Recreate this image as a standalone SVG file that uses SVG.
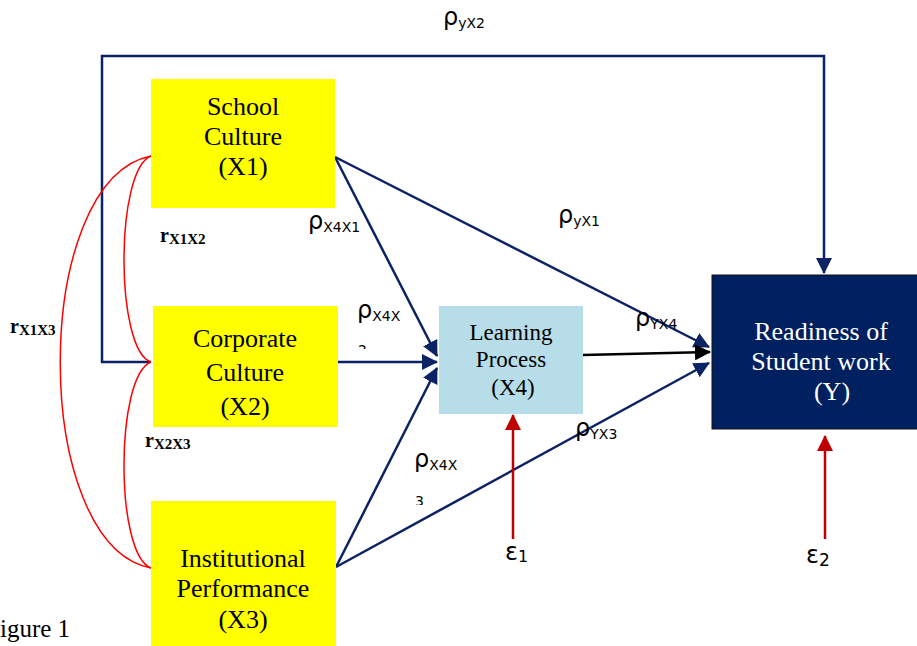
<svg xmlns="http://www.w3.org/2000/svg" width="917" height="646" viewBox="0 0 917 646">
<style>
.yb{fill:#FFFF00}
.nt{font-family:"Liberation Serif","Times New Roman",serif;font-size:26px;fill:#000;text-anchor:middle}
.lt{font-family:"Liberation Serif","Times New Roman",serif;font-size:23px;fill:#000;text-anchor:middle}
.wt{font-family:"Liberation Serif","Times New Roman",serif;font-size:26px;fill:#fff;text-anchor:middle}
.rho{font-family:"DejaVu Sans","Liberation Sans",sans-serif;font-size:24px;fill:#000}
.sub{font-size:14px}
.rl{font-family:"Liberation Serif","Times New Roman",serif;font-weight:bold;font-size:20px;fill:#000}
.rs{font-size:15px}
.nv{stroke:#0B2265;stroke-width:2.5;fill:none}
.rd{stroke:#FF0000;stroke-width:1.5;fill:none}
.ra{stroke:#C00000;stroke-width:2.5;fill:none}
</style>
<defs>
<marker id="anb" markerWidth="16" markerHeight="16" refX="15" refY="8" orient="auto" markerUnits="userSpaceOnUse" viewBox="0 0 16 16"><path d="M0,0 L16,8 L0,16 z" fill="#0B2265"/></marker>
<marker id="ak" markerWidth="16" markerHeight="16" refX="15" refY="8" orient="auto" markerUnits="userSpaceOnUse" viewBox="0 0 16 16"><path d="M0,0 L16,8 L0,16 z" fill="#000"/></marker>
<marker id="ar" markerWidth="16" markerHeight="16" refX="15" refY="8" orient="auto" markerUnits="userSpaceOnUse" viewBox="0 0 16 16"><path d="M0,0 L16,8 L0,16 z" fill="#C00000"/></marker>
<clipPath id="c2"><rect x="350" y="330" width="30" height="19"/></clipPath>
<clipPath id="c3"><rect x="405" y="480" width="30" height="25"/></clipPath>
</defs>

<g id="connectors">
<path class="nv" d="M151,362 H102 V56 H824 V273" marker-end="url(#anb)"/>
<line class="nv" x1="335" y1="157" x2="709" y2="347" marker-end="url(#anb)"/>
<line class="nv" x1="335" y1="157" x2="437" y2="356" marker-end="url(#anb)"/>
<line class="nv" x1="338" y1="362" x2="437" y2="362" marker-end="url(#anb)"/>
<line class="nv" x1="336" y1="567" x2="437" y2="368" marker-end="url(#anb)"/>
<line class="nv" x1="336" y1="567" x2="709" y2="363" marker-end="url(#anb)"/>
<line x1="583" y1="355" x2="710" y2="352" stroke="#000" stroke-width="2.5" marker-end="url(#ak)"/>
<line class="ra" x1="513" y1="539" x2="513" y2="415" marker-end="url(#ar)"/>
<line class="ra" x1="825" y1="539" x2="825" y2="436" marker-end="url(#ar)"/>
<path class="rd" d="M151,156 C115,170 115,350 151,362"/>
<path class="rd" d="M151,362 C115,376 115,555 151,568"/>
<path class="rd" d="M151,156 C30,180 30,545 151,568"/>
</g>

<g id="x1">
<rect class="yb" x="151" y="79" width="184" height="129"/>
<text class="nt" x="243" y="115">School</text>
<text class="nt" x="243" y="145">Culture</text>
<text class="nt" x="243" y="175">(X1)</text>
</g>
<g id="x2">
<rect class="yb" x="153" y="306" width="185" height="121"/>
<text class="nt" x="245" y="347">Corporate</text>
<text class="nt" x="245" y="381">Culture</text>
<text class="nt" x="245" y="415">(X2)</text>
</g>
<g id="x3">
<rect class="yb" x="151" y="501" width="185" height="145"/>
<text class="nt" x="243" y="567">Institutional</text>
<text class="nt" x="243" y="597">Performance</text>
<text class="nt" x="243" y="628">(X3)</text>
</g>
<g id="x4">
<rect x="439" y="306" width="144" height="108" fill="#B7DDE8"/>
<text class="lt" x="511" y="340">Learning</text>
<text class="lt" x="511" y="367">Process</text>
<text class="lt" x="513" y="395">(X4)</text>
</g>
<g id="y">
<rect x="712" y="275" width="210" height="154" fill="#002060" stroke="#111" stroke-width="1"/>
<text class="wt" x="821" y="340">Readiness of</text>
<text class="wt" x="821" y="370">Student work</text>
<text class="wt" x="832" y="400">(Y)</text>
</g>

<g id="labels">
<text class="rho" x="443" y="25">ρ<tspan class="sub" dy="3">yX2</tspan></text>
<text class="rho" x="308" y="229">ρ<tspan class="sub" dy="3">X4X1</tspan></text>
<text class="rho" x="357" y="318">ρ<tspan class="sub" dy="3">X4X</tspan></text>
<text class="rho" x="358" y="355" clip-path="url(#c2)"><tspan class="sub">2</tspan></text>
<text class="rho" x="414" y="467">ρ<tspan class="sub" dy="3">X4X</tspan></text>
<text class="rho" x="415" y="506" clip-path="url(#c3)"><tspan class="sub">3</tspan></text>
<text class="rho" x="558" y="223">ρ<tspan class="sub" dy="3">yX1</tspan></text>
<text class="rho" x="635" y="326">ρ<tspan class="sub" dy="3">YX4</tspan></text>
<text class="rho" x="575" y="436">ρ<tspan class="sub" dy="3">YX3</tspan></text>
<text class="rho" x="505" y="560" font-size="28">ε<tspan font-size="16" dy="2">1</tspan></text>
<text class="rho" x="806" y="563" font-size="28">ε<tspan font-size="17" dy="3">2</tspan></text>
<text class="rl" x="160" y="242">r<tspan class="rs" dy="2">X1X2</tspan></text>
<text class="rl" x="10" y="333">r<tspan class="rs" dy="2">X1X3</tspan></text>
<text class="rl" x="145" y="447">r<tspan class="rs" dy="2">X2X3</tspan></text>
<text x="0" y="637" font-family="'Liberation Serif','Times New Roman',serif" font-size="25" fill="#000">igure 1</text>
</g>
</svg>
